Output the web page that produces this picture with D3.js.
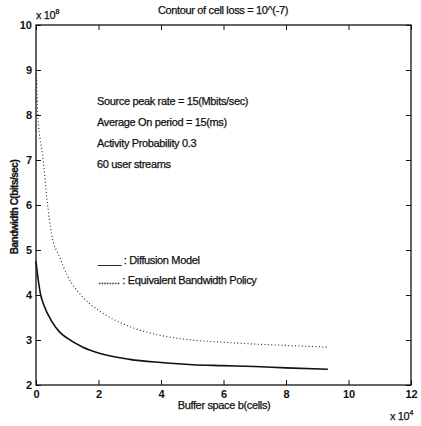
<!DOCTYPE html>
<meta charset="utf-8">
<head>
  <title>Contour of cell loss</title>
</head>
<style>
body {
  margin: 0;
  background: #fff;
  font-family: "Liberation Sans", Arial, sans-serif;
}
text { fill: #111; }
.lbl { font-size: 11px; letter-spacing: -0.35px; stroke: #111; stroke-width: 0.25px; }
</style>
<body>
  <div id="content"></div>
  <script src="https://cdnjs.cloudflare.com/ajax/libs/d3/7.8.5/d3.min.js"></script>
  <script>

// values (x in 1e4 cells, y in 1e8 bits/sec)
var diffusionX = [0, 0.05, 0.15, 0.25, 0.5, 0.75, 1, 1.5, 2, 3, 4, 5, 6, 7, 8, 9.34];
var diffusionY = [4.75, 4.45, 4.0, 3.78, 3.42, 3.18, 3.04, 2.84, 2.71, 2.57, 2.5, 2.45, 2.43, 2.41, 2.38, 2.35];
var equivX = [0.01, 0.06, 0.23, 0.35, 0.5, 0.75, 1, 1.5, 2, 3, 4, 5, 6, 7, 8, 9.34];
var equivY = [9.0, 8.0, 7.0, 6.14, 5.35, 4.85, 4.44, 3.95, 3.66, 3.3, 3.1, 3.0, 2.95, 2.91, 2.88, 2.84];
var xTicks = [0, 2, 4, 6, 8, 10, 12];
var yTicks = [2, 3, 4, 5, 6, 7, 8, 9, 10];
var infoLines = ['Source peak rate = 15(Mbits/sec)', 'Average On period = 15(ms)',
  'Activity Probability 0.3', '60 user streams'];

var W = 421, H = 426;
var m = {left: 36, right: 10, top: 25, bottom: 41};

var svg = d3.select('#content').append('svg')
  .attr('width', W).attr('height', H);

var x = d3.scaleLinear().domain([0, 12]).range([m.left, W - m.right]);
var y = d3.scaleLinear().domain([2, 10]).range([H - m.bottom, m.top]);

//axes with inward ticks on all four sides
function styleAxis(g) {
  g.select('.domain').remove();
  g.selectAll('line').attr('stroke', '#111').attr('stroke-width', 1);
  g.selectAll('text').attr('font-size', 11).attr('font-weight', 'bold').attr('fill', '#111');
}
svg.append('g').attr('transform', 'translate(0,' + y(2) + ')')
  .call(d3.axisBottom(x).tickValues(xTicks).tickSize(-5).tickPadding(5).tickFormat(d3.format('d')))
  .call(styleAxis);
svg.append('g').attr('transform', 'translate(0,' + y(10) + ')')
  .call(d3.axisTop(x).tickValues(xTicks).tickSize(-5).tickFormat(''))
  .call(styleAxis);
svg.append('g').attr('transform', 'translate(' + x(0) + ',0)')
  .call(d3.axisLeft(y).tickValues(yTicks).tickSize(-5).tickPadding(4).tickFormat(d3.format('d')))
  .call(styleAxis);
svg.append('g').attr('transform', 'translate(' + x(12) + ',0)')
  .call(d3.axisRight(y).tickValues(yTicks).tickSize(-5).tickFormat(''))
  .call(styleAxis);

svg.append('rect')
  .attr('x', x(0)).attr('y', y(10))
  .attr('width', x(12) - x(0)).attr('height', y(2) - y(10))
  .attr('fill', 'none').attr('stroke', '#111').attr('stroke-width', 1.3);

var line = d3.line()
  .x(function(d) { return x(d[0]); })
  .y(function(d) { return y(d[1]); })
  .curve(d3.curveMonotoneX);

svg.append('path')
  .datum(d3.zip(diffusionX, diffusionY))
  .attr('d', line)
  .attr('fill', 'none').attr('stroke', '#111').attr('stroke-width', 1.6);

svg.append('path')
  .datum(d3.zip(equivX, equivY))
  .attr('d', line)
  .attr('fill', 'none').attr('stroke', '#222').attr('stroke-width', 1.1)
  .attr('stroke-dasharray', '1,2.4');

//labels
svg.append('text').attr('class', 'lbl').attr('x', 223).attr('y', 14).attr('text-anchor', 'middle')
  .text('Contour of cell loss = 10^(-7)');
var e8 = svg.append('text').attr('class', 'lbl').attr('x', 36).attr('y', 19);
e8.append('tspan').text('x 10');
e8.append('tspan').attr('dy', -5).attr('font-size', 7).text('8');
var e4 = svg.append('text').attr('class', 'lbl').attr('x', 390).attr('y', 420);
e4.append('tspan').text('x 10');
e4.append('tspan').attr('dy', -5).attr('font-size', 7).text('4');

svg.append('text').attr('class', 'lbl').attr('x', 224).attr('y', 409).attr('text-anchor', 'middle')
  .text('Buffer space b(cells)');
svg.append('text').attr('class', 'lbl').attr('transform', 'translate(18,207) rotate(-90)')
  .attr('text-anchor', 'middle').attr('font-weight', 'bold')
  .style('font-size', '10px').style('letter-spacing', '-0.5px')
  .text('Bandwidth C(bits/sec)');

svg.selectAll('.info').data(infoLines).enter().append('text')
  .attr('class', 'lbl')
  .attr('x', 97).attr('y', function(d, i) { return 105 + i * 21; })
  .text(function(d) { return d; });

svg.append('text').attr('class', 'lbl').attr('x', 98).attr('y', 264).text('____ : Diffusion Model');
svg.append('text').attr('class', 'lbl').attr('x', 98).attr('y', 284).text('........ : Equivalent Bandwidth Policy');

</script>
</body>
</html>
